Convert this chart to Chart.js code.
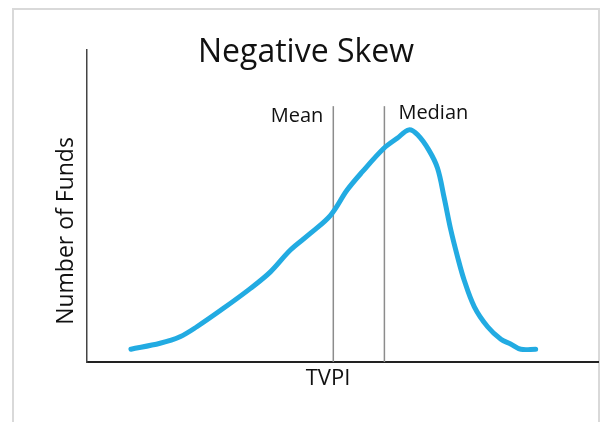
<!DOCTYPE html>
<html>
<head>
<meta charset="utf-8">
<script src="https://cdn.jsdelivr.net/npm/chart.js@4"></script>
<style>
  html, body { margin: 0; padding: 0; background: #fff; }
  #wrap { width: 602px; height: 422px; }
</style>
</head>
<body>
<div id="wrap"><canvas id="skewChart"></canvas></div>
<script>
// Curve (TVPI on x, number of funds on y)
var tvpi = [0.86, 1.43, 1.82, 2.15, 2.67, 3.20, 3.59, 3.98, 4.37, 4.77, 5.09, 5.39, 5.81, 6.07, 6.30, 6.47, 6.69, 6.86, 6.99, 7.12, 7.25, 7.38, 7.58, 7.84, 8.10, 8.29, 8.49, 8.78];
var funds = [4.1, 6.0, 8.1, 11.3, 17.2, 23.6, 28.9, 35.9, 41.2, 47.1, 55.1, 61.0, 68.5, 71.7, 74.4, 72.8, 67.9, 62.1, 52.6, 42.3, 33.8, 26.3, 17.7, 11.3, 7.3, 5.8, 4.1, 4.1];

var markerNames = ['Mean', 'Median'];
var markerX = [4.82, 5.82];
var markerTop = 82;

var titleText = 'Negative Skew';
var xTitle = 'TVPI';
var yTitle = 'Number of Funds';

var curve = tvpi.map((x, i) => ({ x: x, y: funds[i] }));

var datasets = [{
    label: 'Funds',
    data: curve,
    borderColor: '#22abe2',
    borderWidth: 5,
    borderCapStyle: 'round',
    borderJoinStyle: 'round',
    tension: 0.35,
    pointRadius: 0,
    fill: false
}];

markerX.forEach((x, i) => {
    datasets.push({
        label: markerNames[i],
        data: [{ x: x, y: 0 }, { x: x, y: markerTop }],
        borderColor: '#8c8c8c',
        borderWidth: 1.5,
        pointRadius: 0,
        tension: 0
    });
});

// Frame, title and labels
const textPlugin = {
    id: 'textPlugin',
    beforeDraw(chart) {
        const ctx = chart.ctx;
        ctx.save();
        ctx.fillStyle = '#fff';
        ctx.fillRect(0, 0, chart.width, chart.height);
        ctx.strokeStyle = '#d9d9d9';
        ctx.lineWidth = 2;
        ctx.strokeRect(13, 9, 586, 430);
        ctx.restore();
    },
    afterDraw(chart) {
        const ctx = chart.ctx;
        const xs = chart.scales.x, ys = chart.scales.y;
        ctx.save();
        ctx.fillStyle = '#111';
        ctx.textBaseline = 'alphabetic';

        ctx.font = '32px "Open Sans"';
        ctx.textAlign = 'center';
        ctx.fillText(titleText, 306, 62);

        ctx.font = '22px "Open Sans"';
        ctx.fillText(xTitle, 328, 385);

        ctx.font = '20px "Open Sans"';
        ctx.textAlign = 'right';
        ctx.fillText(markerNames[0], xs.getPixelForValue(markerX[0]) - 10, ys.getPixelForValue(markerTop) + 16);
        ctx.textAlign = 'left';
        ctx.fillText(markerNames[1], xs.getPixelForValue(markerX[1]) + 14, ys.getPixelForValue(markerTop) + 13);

        ctx.translate(73, 231);
        ctx.rotate(-Math.PI / 2);
        ctx.textAlign = 'center';
        ctx.font = '23px "Open Sans"';
        ctx.fillText(yTitle, 0, 0);
        ctx.restore();
    }
};

new Chart('skewChart', {
    type: 'line',
    data: { datasets: datasets },
    options: {
        responsive: true,
        maintainAspectRatio: false,
        animation: false,
        layout: { padding: { left: 87, right: 4, top: 50, bottom: 60 } },
        plugins: {
            legend: { display: false },
            tooltip: { enabled: false },
            title: { display: false }
        },
        scales: {
            x: {
                type: 'linear',
                min: 0,
                max: 10,
                grid: { display: false, drawTicks: false },
                ticks: { display: false },
                border: { display: true, color: '#222', width: 2 }
            },
            y: {
                min: 0,
                max: 100,
                grid: { display: false, drawTicks: false },
                ticks: { display: false },
                border: { display: true, color: '#444', width: 1.5 }
            }
        }
    },
    plugins: [textPlugin]
});
</script>
</body>
</html>
